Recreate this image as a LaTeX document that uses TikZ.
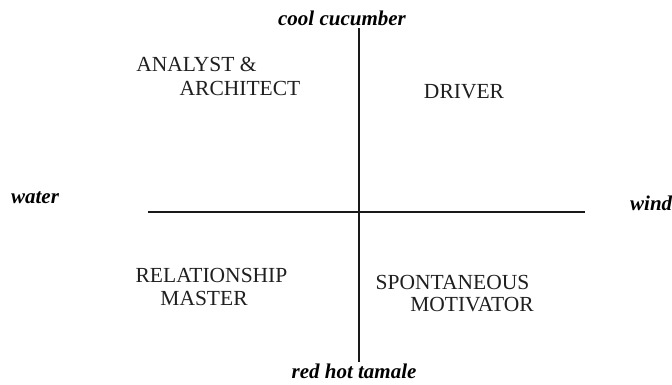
\documentclass[tikz,border=0pt]{standalone}
\usepackage{fontspec}
\setmainfont{Liberation Serif}
\begin{document}
\begin{tikzpicture}[x=1pt,y=-1pt,
  quad/.style={inner sep=0pt,anchor=base,font=\fontsize{21.5}{21.5}\selectfont,text=black!88},
  axislabel/.style={inner sep=0pt,anchor=base,font=\fontsize{21}{21}\selectfont\bfseries\itshape,text=black},
  axis/.style={line width=1.8pt,black!90}]
\useasboundingbox (0,0) rectangle (672,384);
% axes
\coordinate (top) at (359,28);
\coordinate (bottom) at (359,362);
\coordinate (left) at (148,212);
\coordinate (right) at (585,212);
\draw[axis] (top) -- (bottom);
\draw[axis] (left) -- (right);
% axis labels
\node[axislabel] (cool) at (342,25) {cool cucumber};
\node[axislabel] (red) at (354,378) {red hot tamale};
\node[axislabel] (water) at (35,203) {water};
\node[axislabel,anchor=base west] (wind) at (630,210) {wind};
% quadrant labels
\node[quad] (an1) at (196.5,71.7) {ANALYST \&};
\node[quad] (an2) at (240,95) {ARCHITECT};
\node[quad] (dr) at (464,98.3) {DRIVER};
\node[quad] (re1) at (211.5,282.7) {RELATIONSHIP};
\node[quad] (re2) at (204,305) {MASTER};
\node[quad] (sp1) at (452.5,289.3) {SPONTANEOUS};
\node[quad] (sp2) at (472,311.7) {MOTIVATOR};
\end{tikzpicture}
\end{document}
